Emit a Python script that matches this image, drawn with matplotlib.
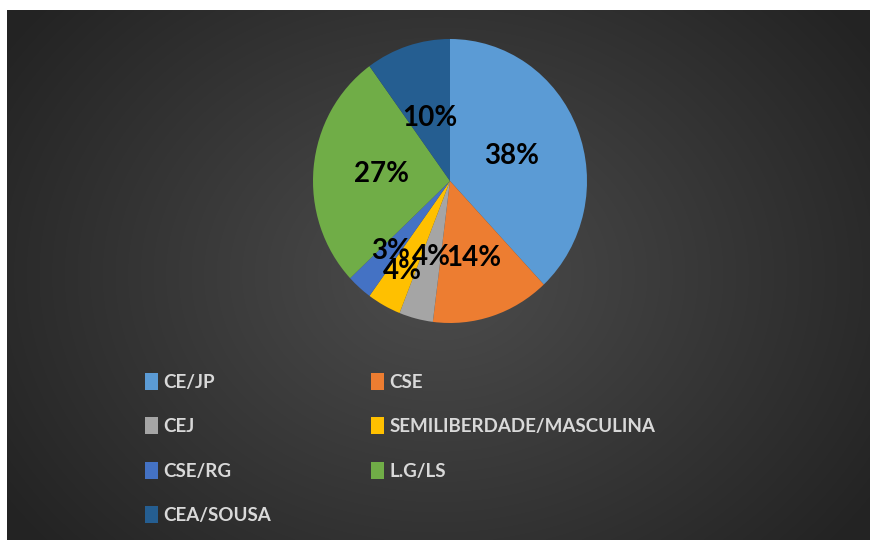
import numpy as np
import matplotlib
matplotlib.use('Agg')
import matplotlib.pyplot as plt
import matplotlib.patches as mpatches

# data
units = ['CE/JP', 'CSE', 'CEJ', 'SEMILIBERDADE/MASCULINA', 'CSE/RG', 'L.G/LS', 'CEA/SOUSA']
shares = [38, 14, 4, 4, 3, 27, 10]
colors = ['#5B9BD5', '#ED7D31', '#A5A5A5', '#FFC000', '#4472C4', '#70AD47', '#255E91']

# radial distance of each percent label (fraction of radius)
label_dist = [0.48, 0.57, 0.55, 0.72, 0.66, 0.50, 0.47]

W, H = 878, 552
fig = plt.figure(figsize=(W / 100, H / 100), dpi=100)
fig.patch.set_facecolor('white')

# dark radial-gradient chart area
bg = fig.add_axes([7 / W, 1 - 540 / H, 863 / W, 530 / H])
yy, xx = np.mgrid[-1:1:300j, -1:1:500j]
r = np.sqrt((xx / 1.0) ** 2 + (yy / 1.3) ** 2)
shade = 0.30 - 0.16 * np.clip(r, 0, 1.2) / 1.2
bg.imshow(np.dstack([shade] * 3), aspect='auto', extent=(0, 1, 0, 1), interpolation='bilinear')
bg.set_axis_off()

# pie
ax = fig.add_axes([313 / W, 1 - 323 / H, 274 / W, 284 / H])
wedges, _ = ax.pie(shares, colors=colors, startangle=90, counterclock=False,
                   wedgeprops=dict(linewidth=0))
ax.set_aspect('auto')
ax.set_xlim(-1, 1)
ax.set_ylim(-1, 1)
ax.set_axis_off()

for w, v, d in zip(wedges, shares, label_dist):
    ang = np.deg2rad((w.theta1 + w.theta2) / 2)
    ax.text(d * np.cos(ang), d * np.sin(ang), f'{v}%', ha='center', va='center',
            fontsize=20, fontweight='bold', family='Lato', color='black')

# legend, filled row by row like the original
order = [0, 2, 4, 6, 1, 3, 5]
handles = [mpatches.Patch(facecolor=colors[i], edgecolor='none') for i in order]
labels = [units[i] for i in order]
leg = fig.legend(handles, labels, ncol=2, loc='upper left',
                 bbox_to_anchor=(128 / W, 1 - 356 / H), frameon=False,
                 prop=dict(family='Lato', weight='bold', size=13.5),
                 labelcolor='#d9d9d9', handlelength=0.7, handleheight=1.0,
                 handletextpad=0.3, labelspacing=1.42, columnspacing=5.3)

fig.savefig('out.png', dpi=100)
